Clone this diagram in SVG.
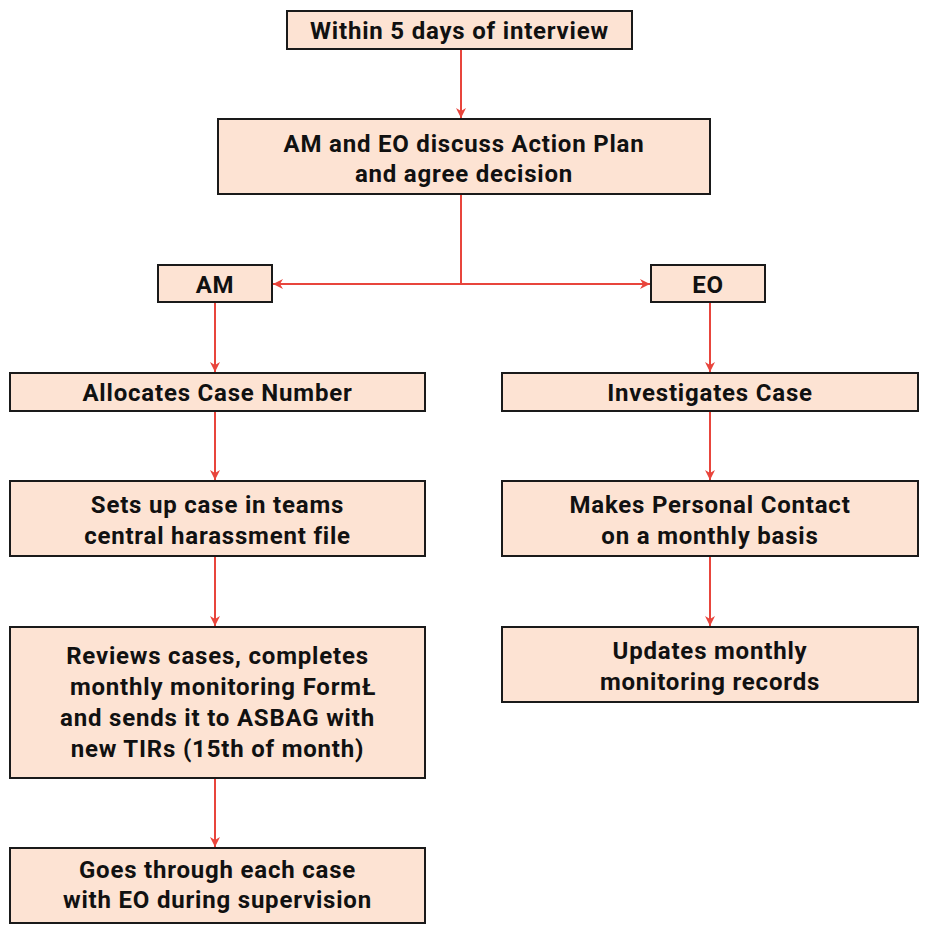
<svg xmlns="http://www.w3.org/2000/svg" width="925" height="925" viewBox="0 0 925 925">
<style>
.box{fill:#fde3d3;stroke:#1a1a1a;stroke-width:2}
.t{font-family:Roboto,"DejaVu Sans",sans-serif;font-weight:bold;font-size:24px;letter-spacing:0.8px;fill:#111;text-anchor:middle}
.c{stroke:#e8453c;stroke-width:2;fill:none}
</style>
<defs>
<marker id="ah" viewBox="0 0 10 10" refX="10" refY="5" markerWidth="10" markerHeight="10" markerUnits="userSpaceOnUse" orient="auto">
<path d="M0,0 L10,5 L0,10 L3,5 Z" fill="#e8453c"/>
</marker>
</defs>
<rect width="925" height="925" fill="#fff"/>
<g id="connectors">
<path class="c" d="M461,49 V118" marker-end="url(#ah)"/>
<path class="c" d="M461,194 V284 H273" marker-end="url(#ah)"/>
<path class="c" d="M461,284 H650" marker-end="url(#ah)"/>
<path class="c" d="M215,302 V372" marker-end="url(#ah)"/>
<path class="c" d="M215,411 V480" marker-end="url(#ah)"/>
<path class="c" d="M215,556 V626" marker-end="url(#ah)"/>
<path class="c" d="M215,778 V847" marker-end="url(#ah)"/>
<path class="c" d="M710,302 V372" marker-end="url(#ah)"/>
<path class="c" d="M710,411 V480" marker-end="url(#ah)"/>
<path class="c" d="M710,556 V626" marker-end="url(#ah)"/>
</g>
<g id="n1"><rect class="box" x="287" y="11" width="345" height="38"/><text class="t" x="459.5" y="39">Within 5 days of interview</text></g>
<g id="n2"><rect class="box" x="218" y="119" width="492" height="75"/><text class="t" x="464" y="152">AM and EO discuss Action Plan</text><text class="t" x="464" y="182">and agree decision</text></g>
<g id="n3"><rect class="box" x="158" y="265" width="114" height="37"/><text class="t" x="215" y="293">AM</text></g>
<g id="n4"><rect class="box" x="651" y="265" width="114" height="37"/><text class="t" x="708" y="293">EO</text></g>
<g id="n5"><rect class="box" x="10" y="373" width="415" height="38"/><text class="t" x="217.5" y="401">Allocates Case Number</text></g>
<g id="n6"><rect class="box" x="502" y="373" width="416" height="38"/><text class="t" x="710" y="401">Investigates Case</text></g>
<g id="n7"><rect class="box" x="10" y="481" width="415" height="75"/><text class="t" x="217.5" y="513">Sets up case in teams</text><text class="t" x="217.5" y="544">central harassment file</text></g>
<g id="n8"><rect class="box" x="502" y="481" width="416" height="75"/><text class="t" x="710" y="513">Makes Personal Contact</text><text class="t" x="710" y="544">on a monthly basis</text></g>
<g id="n9"><rect class="box" x="10" y="627" width="415" height="151"/><text class="t" x="217.5" y="664">Reviews cases, completes</text><text class="t" x="223" y="695">monthly monitoring FormŁ</text><text class="t" x="217.5" y="726">and sends it to ASBAG with</text><text class="t" x="217.5" y="757">new TIRs (15th of month)</text></g>
<g id="n10"><rect class="box" x="502" y="627" width="416" height="75"/><text class="t" x="710" y="659">Updates monthly</text><text class="t" x="710" y="690">monitoring records</text></g>
<g id="n11"><rect class="box" x="10" y="848" width="415" height="75"/><text class="t" x="217.5" y="878">Goes through each case</text><text class="t" x="217.5" y="908">with EO during supervision</text></g>
</svg>
